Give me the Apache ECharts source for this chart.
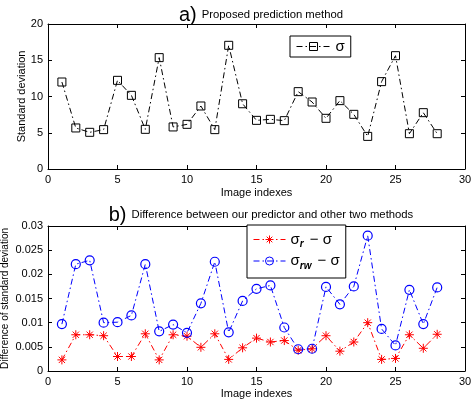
<!DOCTYPE html>
<html><head><meta charset="utf-8">
<script src="https://cdn.jsdelivr.net/npm/echarts@6/dist/echarts.min.js"></script>
<style>html,body{margin:0;padding:0;background:#fff}#c{width:471px;height:401px}</style>
</head><body><div id="c"></div>
<script>
var imageIndexes = [1,2,3,4,5,6,7,8,9,10,11,12,13,14,15,16,17,18,19,20,21,22,23,24,25,26,27,28];
var sigma = [12.0,5.66,5.06,5.43,12.23,10.16,5.47,15.36,5.8,6.16,8.69,5.43,17.06,9.0,6.71,6.85,6.67,10.67,9.24,6.99,9.43,7.54,4.5,12.05,15.63,4.87,7.77,4.87];
var sigmaR = [0.0023,0.0075,0.0075,0.0073,0.0030,0.0030,0.0077,0.0023,0.0075,0.0072,0.0049,0.0077,0.0024,0.0048,0.0068,0.0060,0.0063,0.0043,0.0046,0.0073,0.0041,0.0060,0.0100,0.0024,0.0026,0.0075,0.0047,0.0076];
var sigmaRW = [0.0097,0.0221,0.0229,0.0100,0.0101,0.0115,0.0221,0.0082,0.0096,0.0079,0.0140,0.0226,0.0080,0.0145,0.0170,0.0177,0.0090,0.0045,0.0046,0.0174,0.0138,0.0175,0.0280,0.0087,0.0053,0.0168,0.0097,0.0173];
var xTicks = [0,5,10,15,20,25,30];
var yTicksTop = [0,5,10,15,20];
var yTicksBottom = [0,0.005,0.01,0.015,0.02,0.025,0.03];

function pairs(ys){ return imageIndexes.map(function(x,i){return [x, ys[i]];}); }
var FONT = '"Liberation Sans", Arial, sans-serif';
var dashDot = [6,3,1.5,3];
var asterisk = 'path://M5,0L5,10M0,5L10,5M1.5,1.5L8.5,8.5M1.5,8.5L8.5,1.5';

function xAxes(grid){
  return [
    {gridIndex:grid, type:'value', position:'bottom', min:xTicks[0], max:xTicks[xTicks.length-1], interval:5,
     name:'Image indexes', nameLocation:'middle', nameGap: grid===0?18:17, nameMoveOverlap:false,
     nameTextStyle:{fontFamily:FONT,fontSize:11,color:'#000'},
     axisLine:{onZero:false,lineStyle:{color:'#000',width:1}}, axisTick:{inside:true,length:4,lineStyle:{color:'#000'}},
     axisLabel:{fontFamily:FONT,fontSize:11,color:'#000',margin:5}, splitLine:{show:false}},
    {gridIndex:grid, type:'value', position:'top', min:xTicks[0], max:xTicks[xTicks.length-1], interval:5,
     axisLine:{onZero:false,lineStyle:{color:'#000',width:1}}, axisTick:{inside:true,length:4,lineStyle:{color:'#000'}},
     axisLabel:{show:false}, splitLine:{show:false}}
  ];
}
function yAxes(grid, ticks, name, gap, fs){
  var iv = ticks[1]-ticks[0];
  return [
    {gridIndex:grid, type:'value', position:'left', min:ticks[0], max:ticks[ticks.length-1], interval:iv,
     name:name, nameLocation:'middle', nameGap:gap, nameMoveOverlap:false, nameTextStyle:{fontFamily:FONT,fontSize:fs,color:'#000'},
     axisLine:{onZero:false,lineStyle:{color:'#000',width:1}}, axisTick:{inside:true,length:4,lineStyle:{color:'#000'}},
     axisLabel:{fontFamily:FONT,fontSize:11,color:'#000',margin:5,
       formatter:function(v){return String(+v.toFixed(4));}}, splitLine:{show:false}},
    {gridIndex:grid, type:'value', position:'right', min:ticks[0], max:ticks[ticks.length-1], interval:iv,
     axisLine:{onZero:false,lineStyle:{color:'#000',width:1}}, axisTick:{inside:true,length:4,lineStyle:{color:'#000'}},
     axisLabel:{show:false}, splitLine:{show:false}}
  ];
}

var legendRich = {
  s:{fontFamily:FONT,fontSize:15,color:'#000',lineHeight:20,verticalAlign:'middle'},
  sub:{fontFamily:FONT,fontSize:10,fontWeight:'bold',fontStyle:'italic',color:'#000',lineHeight:20,verticalAlign:'bottom',padding:[0,2,0,0]}
};
var labelMap = {
  'σ':'{s|σ}',
  'σr − σ':'{s|σ}{sub|r}{s| − σ}',
  'σrw − σ':'{s|σ}{sub|rw}{s| − σ}'
};
var titleRich = {big:{fontFamily:FONT,fontSize:20,fontWeight:'normal',color:'#000'},small:{fontFamily:FONT,fontSize:11.3,fontWeight:'normal',color:'#000'}};

var chart = echarts.init(document.getElementById('c'), null, {renderer:'canvas'});
chart.setOption({
  animation:false,
  backgroundColor:'#fff',
  title:[
    {text:'{big|a)} {small|Proposed prediction method}', left:256, top:0, textAlign:'center',
     textStyle:{fontWeight:'normal',rich:titleRich}},
    {text:'{big|b)} {small|Difference between our predictor and other two methods}', left:256, top:200, textAlign:'center',
     textStyle:{fontWeight:'normal',rich:titleRich}}
  ],
  grid:[
    {left:48, top:24, width:417, height:145, outerBoundsMode:'none', containLabel:false},
    {left:48, top:226, width:417, height:145, outerBoundsMode:'none', containLabel:false}
  ],
  xAxis: xAxes(0).concat(xAxes(1)),
  yAxis: yAxes(0, yTicksTop, 'Standard deviation', 21, 11).concat(yAxes(1, yTicksBottom, 'Difference of standard deviation', 38, 10)),
  legend:[
    {data:['σ'], left:290, top:36, orient:'vertical', backgroundColor:'#fff', borderColor:'#000', borderWidth:1, borderRadius:0,
     padding:[3,6,3,6], itemWidth:34, itemHeight:10, itemGap:4, formatter:function(n){return labelMap[n];},
     itemStyle:{borderWidth:1}, lineStyle:{width:1},
     textStyle:{rich:legendRich}},
    {data:['σr − σ','σrw − σ'], left:247, top:225, orient:'vertical', backgroundColor:'#fff', borderColor:'#000', borderWidth:1, borderRadius:0,
     padding:[7,6,7,6], itemWidth:32, itemHeight:10, itemGap:4, formatter:function(n){return labelMap[n];},
     itemStyle:{borderWidth:1}, lineStyle:{width:1},
     textStyle:{rich:legendRich}}
  ],
  series:[
    {name:'σ', type:'line', xAxisIndex:0, yAxisIndex:0, data:pairs(sigma),
     symbol:'rect', symbolSize:8, lineStyle:{color:'#000',width:1,type:dashDot},
     itemStyle:{color:'none',borderColor:'#000',borderWidth:1}},
    {name:'σr − σ', type:'line', xAxisIndex:2, yAxisIndex:2, data:pairs(sigmaR),
     symbol:asterisk, symbolSize:9, lineStyle:{color:'#ff0000',width:1,type:dashDot},
     itemStyle:{color:'#ff0000',borderColor:'#ff0000',borderWidth:1}},
    {name:'σrw − σ', type:'line', xAxisIndex:2, yAxisIndex:2, data:pairs(sigmaRW),
     symbol:'circle', symbolSize:9, lineStyle:{color:'#0000ff',width:1,type:dashDot},
     itemStyle:{color:'none',borderColor:'#0000ff',borderWidth:1.2}}
  ]
});
</script></body></html>
